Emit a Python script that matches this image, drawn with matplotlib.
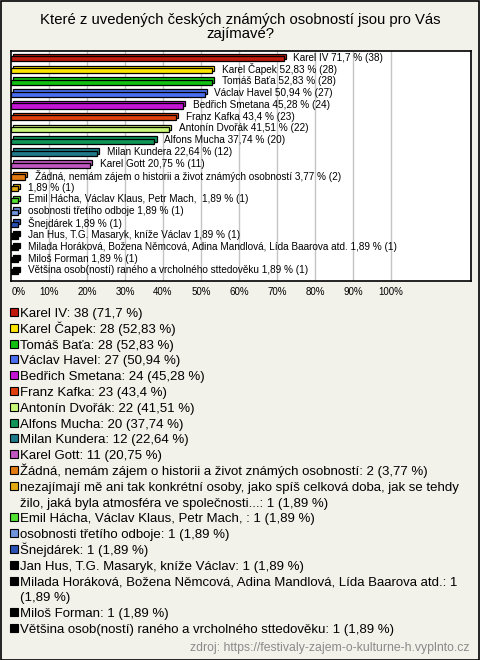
import matplotlib.pyplot as plt
from matplotlib.patches import Rectangle

plt.rcParams['font.family'] = ['Liberation Sans', 'DejaVu Sans']

names = ['Karel IV', 'Karel Čapek', 'Tomáš Baťa', 'Václav Havel', 'Bedřich Smetana',
         'Franz Kafka', 'Antonín Dvořák', 'Alfons Mucha', 'Milan Kundera', 'Karel Gott',
         'Žádná, nemám zájem o historii a život známých osobností',
         'nezajímají mě ani tak konkrétní osoby, jako spíš celková doba, jak se tehdy\nžilo, jaká byla atmosféra ve společnosti...',
         'Emil Hácha, Václav Klaus, Petr Mach, ', 'osobnosti třetího odboje', 'Šnejdárek',
         'Jan Hus, T.G. Masaryk, kníže Václav',
         'Milada Horáková, Božena Němcová, Adina Mandlová, Lída Baarova atd.',
         'Miloš Forman', 'Většina osob(ností) raného a vrcholného sttedověku']
bar_names = ['Karel IV', 'Karel Čapek', 'Tomáš Baťa', 'Václav Havel', 'Bedřich Smetana',
             'Franz Kafka', 'Antonín Dvořák', 'Alfons Mucha', 'Milan Kundera', 'Karel Gott',
             'Žádná, nemám zájem o historii a život známých osobností', '',
             'Emil Hácha, Václav Klaus, Petr Mach, ', 'osobnosti třetího odboje', 'Šnejdárek',
             'Jan Hus, T.G. Masaryk, kníže Václav',
             'Milada Horáková, Božena Němcová, Adina Mandlová, Lída Baarova atd.',
             'Miloš Forman', 'Většina osob(ností) raného a vrcholného sttedověku']
counts = [38, 28, 28, 27, 24, 23, 22, 20, 12, 11, 2, 1, 1, 1, 1, 1, 1, 1, 1]
pcts = [71.7, 52.83, 52.83, 50.94, 45.28, 43.4, 41.51, 37.74, 22.64, 20.75,
        3.77, 1.89, 1.89, 1.89, 1.89, 1.89, 1.89, 1.89, 1.89]
colors = ['#c01a0c', '#ffe400', '#12c012', '#4a6ef0', '#c414d4', '#e0400e', '#c8f878',
          '#109458', '#1e7a8a', '#c056c0', '#e27a12', '#e2aa10', '#52e232', '#7094dc',
          '#2a52b4', '#000000', '#000000', '#000000', '#000000']
ticks = [0, 10, 20, 30, 40, 50, 60, 70, 80, 90, 100]

W, H = 480, 660
bg = '#f3f2ea'
fig = plt.figure(figsize=(W / 100, H / 100), dpi=100, facecolor=bg)

def fy(y):
    return 1 - y / H

fig.text(0.5, fy(27), 'Které z uvedených českých známých osobností jsou pro Vás\nzajímavé?',
         ha='center', va='center', fontsize=10.7, linespacing=1.0)

ax = fig.add_axes([11 / W, fy(281), 460 / W, 230 / H])
ax.set_facecolor('white')
for s in ax.spines.values():
    s.set_linewidth(1.2)
    s.set_color('black')

n = len(pcts)
h = 0.44
dx = 0.55
dy = 0.2
for i in range(n):
    v = pcts[i]
    ax.barh(i - dy, v, left=dx, height=h, color=colors[i], edgecolor='black', lw=0.9, zorder=3)
    ax.barh(i, v, height=h, color=colors[i], edgecolor='black', lw=0.9, zorder=4)
    lab = (bar_names[i] + ' ' if bar_names[i] else '') + \
        str(pcts[i]).replace('.', ',') + ' % (' + str(counts[i]) + ')'
    ax.text(v + dx + 2.0, i - 0.1, lab, fontsize=7.2, va='center', ha='left', zorder=5)

for t in ticks[1:]:
    ax.axvline(t, color='#c4c4c4', lw=1, zorder=1)
ax.set_xlim(0, 121)
ax.set_ylim(n - 1 + 0.8, -0.65)
ax.set_yticks([])
ax.set_xticks([])

for t in ticks:
    x = (11 + t * 3.8) / W
    fig.text(x + (8 / W if t == 0 else 0), fy(292), str(t) + '%', ha='center', va='center', fontsize=7)

# legend, one text per line so wrapped entries keep the row pitch
yb = 317
for i in range(n):
    fig.patches.append(Rectangle((10 / W, fy(yb - 1)), 8 / W, 8 / H, transform=fig.transFigure,
                                 facecolor=colors[i], edgecolor='black', lw=0.8))
    pct = str(pcts[i]).replace('.', ',')
    txt = names[i] + ': ' + str(counts[i]) + ' (' + pct + ' %)'
    if i == 16:
        txt = names[i] + ': ' + str(counts[i]) + '\n(' + pct + ' %)'
    for line in txt.split('\n'):
        fig.text(20 / W, fy(yb), line, ha='left', va='baseline', fontsize=9.5)
        yb += 15.8

fig.text(470 / W, fy(648), 'zdroj: https://festivaly-zajem-o-kulturne-h.vyplnto.cz',
         ha='right', va='center', fontsize=8.8, color='#8a8a8a')

fig.patches.append(Rectangle((0.5 / W, 0.5 / H), 1 - 1.5 / W, 1 - 1.5 / H, transform=fig.transFigure,
                             facecolor='none', edgecolor='black', lw=1.2))

fig.savefig('out.png', dpi=100, facecolor=bg)
